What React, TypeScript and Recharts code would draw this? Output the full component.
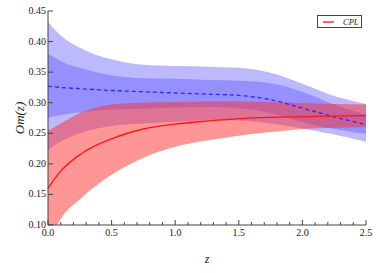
import {
  ComposedChart, Area, Line, XAxis, YAxis, Label, Legend,
} from 'recharts'

// redshift grid
const zValues = [0, 0.05, 0.1, 0.25, 0.5, 0.75, 1.0, 1.25, 1.5, 1.75, 2.0, 2.25, 2.5]

// blue reconstruction (dashed) with 1σ / 2σ bands
const blueMean    = [0.327, 0.326, 0.325, 0.323, 0.320, 0.318, 0.316, 0.314, 0.312, 0.305, 0.291, 0.277, 0.264]
const blueOuterHi = [0.432, 0.420, 0.410, 0.390, 0.371, 0.362, 0.360, 0.359, 0.357, 0.349, 0.331, 0.311, 0.298]
const blueOuterLo = [0.222, 0.230, 0.236, 0.250, 0.262, 0.266, 0.269, 0.271, 0.271, 0.266, 0.258, 0.248, 0.236]
const blueInnerHi = [0.380, 0.374, 0.368, 0.357, 0.345, 0.340, 0.339, 0.337, 0.336, 0.332, 0.318, 0.297, 0.280]
const blueInnerLo = [0.276, 0.278, 0.280, 0.284, 0.289, 0.290, 0.292, 0.293, 0.291, 0.283, 0.268, 0.257, 0.249]

// CPL curve and band
const redMean = [0.160, 0.175, 0.188, 0.215, 0.241, 0.257, 0.265, 0.270, 0.274, 0.276, 0.277, 0.278, 0.279]
const redHi   = [0.254, 0.260, 0.266, 0.283, 0.297, 0.300, 0.301, 0.302, 0.302, 0.301, 0.299, 0.298, 0.297]
const redLo   = [0.070, 0.092, 0.110, 0.142, 0.182, 0.210, 0.228, 0.238, 0.246, 0.252, 0.257, 0.259, 0.260]

const xTicks = [0, 0.1, 0.2, 0.3, 0.4, 0.5, 0.6, 0.7, 0.8, 0.9, 1.0, 1.1, 1.2, 1.3, 1.4, 1.5,
  1.6, 1.7, 1.8, 1.9, 2.0, 2.1, 2.2, 2.3, 2.4, 2.5]
const yTicks = [0.10, 0.15, 0.20, 0.25, 0.30, 0.35, 0.40, 0.45]

const data = zValues.map((z, i) => ({
  z,
  blueMean: blueMean[i],
  blueOuter: [blueOuterLo[i], blueOuterHi[i]],
  blueInner: [blueInnerLo[i], blueInnerHi[i]],
  redMean: redMean[i],
  redBand: [redLo[i], redHi[i]],
}))

const frame = '#444'
const serif = 'Liberation Serif, DejaVu Serif, serif'
const tickFont = { fontFamily: serif, fontSize: 10, fill: '#1a1a1a' }

const isMajor = (v: number) => Math.abs(v * 2 - Math.round(v * 2)) < 1e-6

function BottomTick({ x, y, payload }: any) {
  const major = isMajor(payload.value)
  return (
    <g>
      <line x1={x} x2={x} y1={y} y2={y - (major ? 5 : 3)} stroke={frame} />
      {major && (
        <text x={x} y={y + 11} textAnchor="middle" style={tickFont}>
          {payload.value.toFixed(1)}
        </text>
      )}
    </g>
  )
}

function TopTick({ x, y, payload }: any) {
  const major = isMajor(payload.value)
  return <line x1={x} x2={x} y1={y} y2={y + (major ? 5 : 3)} stroke={frame} />
}

function LeftTick({ x, y, payload }: any) {
  return (
    <g>
      <line x1={x} x2={x + 5} y1={y} y2={y} stroke={frame} />
      <text x={x - 2} y={y + 3} textAnchor="end" style={tickFont}>
        {payload.value.toFixed(2)}
      </text>
    </g>
  )
}

function RightTick({ x, y }: any) {
  return <line x1={x} x2={x - 5} y1={y} y2={y} stroke={frame} />
}

function LegendBox({ payload }: any) {
  const items = (payload || []).filter((p: any) => p.type !== 'none')
  return (
    <div style={{
      border: `1px solid ${frame}`, background: '#fff', width: 43, height: 11,
      display: 'flex', alignItems: 'center', boxSizing: 'content-box',
    }}>
      {items.map((p: any) => (
        <div key={p.value} style={{ display: 'flex', alignItems: 'center' }}>
          <svg width="17" height="4" style={{ marginLeft: 5 }}>
            <line x1="0" y1="2" x2="11" y2="2" stroke="#ff6464" strokeWidth="2" />
          </svg>
          <span style={{ fontFamily: serif, fontStyle: 'italic', fontSize: 8.5, marginLeft: 3, color: '#1a1a1a' }}>
            {p.value}
          </span>
        </div>
      ))}
    </div>
  )
}

export default function App() {
  return (
    <div style={{ position: 'absolute', left: 0, top: 0, width: 382, height: 273, background: '#fff', fontFamily: serif }}>
      <ComposedChart
        width={382}
        height={273}
        data={data}
        margin={{ top: 11, right: 16, left: 0, bottom: 0 }}
      >
        <XAxis
          xAxisId="b" dataKey="z" type="number" domain={[0, 2.5]} ticks={xTicks}
          height={35} tickSize={0} tickMargin={0} tick={<BottomTick />}
          axisLine={{ stroke: frame }} interval={0}
        >
          <Label value="z" position="insideBottom" offset={-3}
            style={{ fontFamily: serif, fontStyle: 'italic', fontSize: 12, fill: '#1a1a1a' }} />
        </XAxis>
        <XAxis
          xAxisId="t" orientation="top" dataKey="z" type="number" domain={[0, 2.5]} ticks={xTicks}
          height={0} tickSize={0} tickMargin={0} tick={<TopTick />}
          axisLine={{ stroke: frame }} interval={0}
        />
        <YAxis
          yAxisId="l" type="number" domain={[0.1, 0.45]} ticks={yTicks} allowDataOverflow
          width={48} tickSize={0} tickMargin={0} tick={<LeftTick />}
          axisLine={{ stroke: frame }} interval={0}
        >
          <Label value="Om(z)" angle={-90} position="insideLeft" offset={19}
            style={{ fontFamily: serif, fontStyle: 'italic', fontSize: 13, fill: '#1a1a1a', textAnchor: 'middle' }} />
        </YAxis>
        <YAxis
          yAxisId="r" orientation="right" type="number" domain={[0.1, 0.45]} ticks={yTicks} allowDataOverflow
          width={0} tickSize={0} tickMargin={0} tick={<RightTick />}
          axisLine={{ stroke: frame }} interval={0}
        />

        <Area xAxisId="b" yAxisId="l" type="monotone" dataKey="blueOuter" stroke="none"
          fill="#5a4fff" fillOpacity={0.4} legendType="none" isAnimationActive={false} />
        <Area xAxisId="b" yAxisId="l" type="monotone" dataKey="blueInner" stroke="none"
          fill="#5a4fff" fillOpacity={0.4} legendType="none" isAnimationActive={false} />
        <Area xAxisId="b" yAxisId="l" type="monotone" dataKey="redBand" stroke="none"
          fill="#ff2d2d" fillOpacity={0.5} legendType="none" isAnimationActive={false} />

        <Line xAxisId="b" yAxisId="l" type="monotone" dataKey="blueMean" stroke="#2a2aff"
          strokeWidth={1.3} strokeDasharray="4 3" dot={false} legendType="none" isAnimationActive={false} />
        <Line xAxisId="b" yAxisId="l" type="monotone" dataKey="redMean" name="CPL" stroke="#ff1414"
          strokeWidth={1.3} dot={false} isAnimationActive={false} />

        <Legend content={<LegendBox />} wrapperStyle={{ top: 15, left: 317, width: 45, height: 13 }} />
      </ComposedChart>
    </div>
  )
}
